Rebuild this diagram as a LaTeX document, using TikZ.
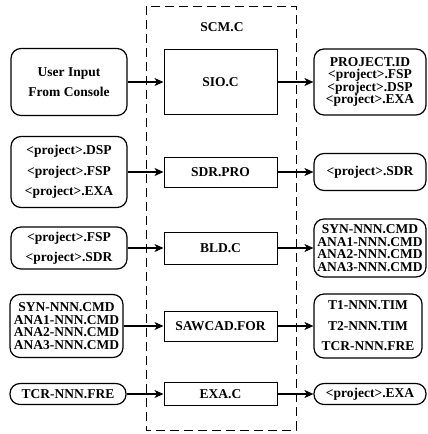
\documentclass[tikz,border=0pt]{standalone}
\usepackage{fontspec}
\setmainfont{Liberation Serif}
\usetikzlibrary{arrows.meta}
\begin{document}
\begin{tikzpicture}[x=1pt,y=-1pt,
  every node/.style={font=\bfseries\fontsize{13.5}{13}\selectfont},
  rbox/.style={draw, line width=1.2pt, rounded corners=10pt, inner sep=0pt, align=center},
  cbox/.style={draw, line width=1pt, inner sep=0pt, align=center, minimum width=113pt},
  tfour/.style={font=\bfseries\fontsize{13.5}{12.6}\selectfont},
  tthree/.style={font=\bfseries\fontsize{13.5}{20.5}\selectfont},
  arr/.style={line width=1.2pt, -{Stealth[length=9pt,width=8pt,inset=2.5pt]}}]
\useasboundingbox (0,0) rectangle (428,434);
% dashed module frame
\draw[line width=1pt, dash pattern=on 9pt off 5pt] (146,6) rectangle (296,430);
\node (scm) at (222,27) {SCM.C};
% centre boxes
\node[cbox, minimum height=65pt] (c1) at (220.5,82) {SIO.C};
\node[cbox, minimum height=30pt] (c2) at (220.5,172) {SDR.PRO};
\node[cbox, minimum height=32pt] (c3) at (220.5,248) {BLD.C};
\node[cbox, minimum height=30pt] (c4) at (220.5,326) {SAWCAD.FOR};
\node[cbox, minimum height=23pt] (c5) at (220.5,394) {EXA.C};
% left inputs
\node[rbox, tthree, minimum width=116pt, minimum height=67pt] (l1) at (69,82) {User Input\\From Console};
\node[rbox, tthree, minimum width=116pt, minimum height=71pt] (l2) at (69,172) {<project>.DSP\\<project>.FSP\\<project>.EXA};
\node[rbox, tthree, minimum width=116pt, minimum height=42pt] (l3) at (69,248) {<project>.FSP\\<project>.SDR};
\node[rbox, tfour, minimum width=113pt, minimum height=63pt] (l4) at (66.5,326) {SYN-NNN.CMD\\ANA1-NNN.CMD\\ANA2-NNN.CMD\\ANA3-NNN.CMD};
\node[rbox, minimum width=116pt, minimum height=21pt] (l5) at (68,394) {TCR-NNN.FRE};
% right outputs
\node[rbox, tfour, minimum width=112pt, minimum height=66pt] (r1) at (370,82) {PROJECT.ID\\<project>.FSP\\<project>.DSP\\<project>.EXA};
\node[rbox, minimum width=112pt, minimum height=37pt] (r2) at (370,172) {<project>.SDR};
\node[rbox, tfour, minimum width=112pt, minimum height=58pt] (r3) at (370,248) {SYN-NNN.CMD\\ANA1-NNN.CMD\\ANA2-NNN.CMD\\ANA3-NNN.CMD};
\node[rbox, tthree, minimum width=108pt, minimum height=64pt] (r4) at (368,326) {T1-NNN.TIM\\T2-NNN.TIM\\TCR-NNN.FRE};
\node[rbox, minimum width=112pt, minimum height=21pt] (r5) at (370,394) {<project>.EXA};
% connectors
\foreach \i in {1,...,5}{
  \draw[arr] (l\i.east) -- (c\i.west);
  \draw[arr] (c\i.east) -- (r\i.west);
}
\end{tikzpicture}
\end{document}
